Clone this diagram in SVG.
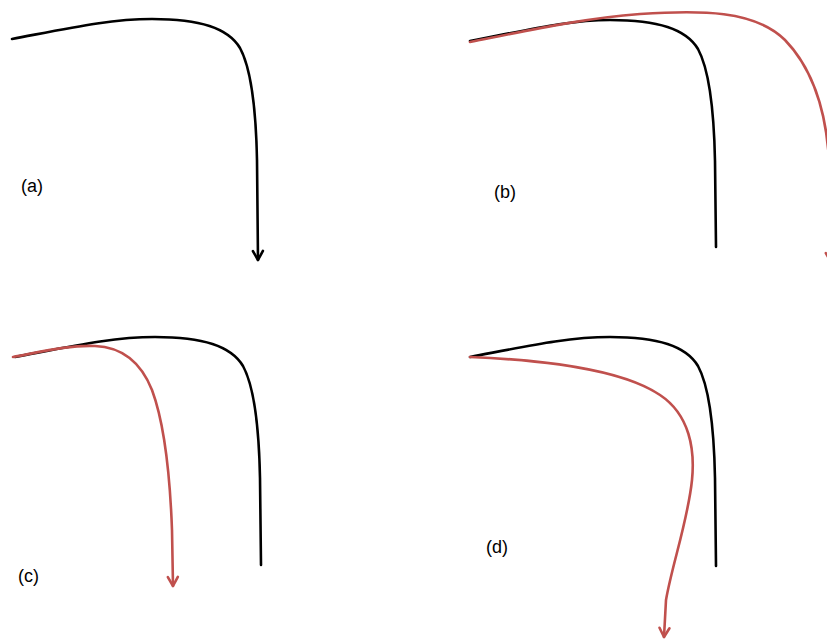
<svg xmlns="http://www.w3.org/2000/svg" width="827" height="642" viewBox="0 0 827 642">
<style>
.blk{fill:none;stroke:#000;stroke-width:2.6;stroke-linecap:round;stroke-linejoin:round}
.red{fill:none;stroke:#c0504d;stroke-width:2.6;stroke-linecap:round;stroke-linejoin:round}
.lbl{font-family:"Liberation Sans",Arial,sans-serif;font-size:18px;fill:#000}
</style>
<defs>
<marker id="ab" markerUnits="userSpaceOnUse" markerWidth="14" markerHeight="14" viewBox="0 0 14 14" refX="12" refY="7" orient="auto"><path d="M3,2 L12,7 L3,12" fill="none" stroke="#000" stroke-width="2.6" stroke-linecap="round" stroke-linejoin="round"/></marker>
<marker id="ar" markerUnits="userSpaceOnUse" markerWidth="14" markerHeight="14" viewBox="0 0 14 14" refX="12" refY="7" orient="auto"><path d="M3,2 L12,7 L3,12" fill="none" stroke="#c0504d" stroke-width="2.6" stroke-linecap="round" stroke-linejoin="round"/></marker>
</defs>
<g id="connectors">
<path class="blk" d="M12,39 C70,28 110,19 152,19 C200,19 228,28 240,48 C252,70 256,110 257,160 L258,260" marker-end="url(#ab)"/>
<path class="blk" d="M470,41 C528,30 568,20 610,20 C658,20 686,29 698,49 C710,71 714,111 715,161 L716,247"/>
<path class="red" d="M470,42 C530,30 585,18 640,14 C700,10 755,10 785,40 C812,68 826,110 829,160 L831,262" marker-end="url(#ar)"/>
<path class="blk" d="M15,357 C73,346 113,337 155,337 C203,337 231,346 243,366 C255,388 259,428 260,478 L261,565"/>
<path class="red" d="M13,357 C45,351 70,345 95,346 C120,347 140,360 152,390 C165,425 170,475 172,530 L173,586" marker-end="url(#ar)"/>
<path class="blk" d="M470,357 C528,346 568,337 610,337 C658,337 686,346 698,366 C710,388 714,428 715,478 L716,566"/>
<path class="red" d="M470,357 C540,360 620,368 660,395 C690,415 695,450 692,480 C688,520 672,565 666,600 L664,637" marker-end="url(#ar)"/>
</g>
<g id="label-a"><text class="lbl" x="21" y="192">(a)</text></g>
<g id="label-b"><text class="lbl" x="494" y="198">(b)</text></g>
<g id="label-c"><text class="lbl" x="18" y="582">(c)</text></g>
<g id="label-d"><text class="lbl" x="486" y="553">(d)</text></g>
</svg>
